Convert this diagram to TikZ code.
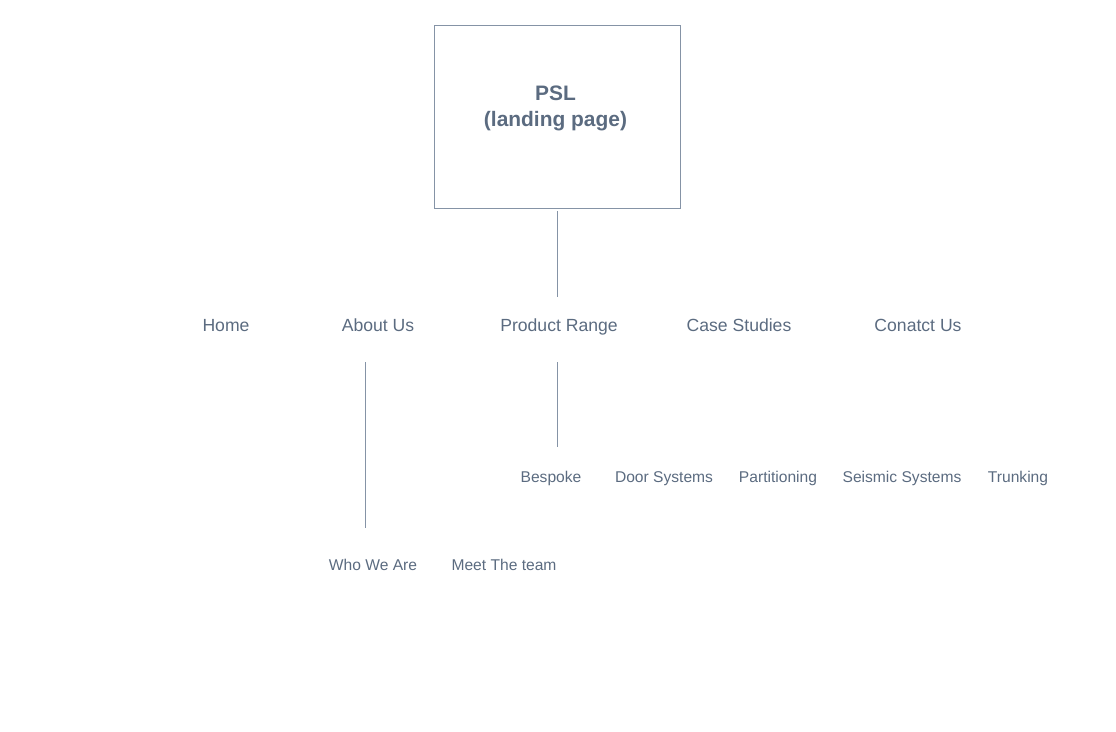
\documentclass[tikz,border=0pt]{standalone}
\usepackage{fontspec}
\setmainfont{Liberation Sans}
\definecolor{txt}{HTML}{5B6B80}
\definecolor{ln}{HTML}{8593A6}
\begin{document}
\begin{tikzpicture}[x=0.75pt,y=-0.75pt,
  lvlone/.style={font=\fontsize{13.2}{15}\selectfont, text=txt, inner sep=0pt, text height=9.45pt, text depth=0pt},
  lvltwo/.style={font=\fontsize{11.7}{14}\selectfont, text=txt, inner sep=0pt, text height=8.4pt, text depth=0pt},
  conn/.style={draw=ln, line width=0.7pt},
  boxstyle/.style={draw=ln, line width=0.7pt, minimum width=184.5pt, minimum height=137.25pt, inner sep=0pt}]
\useasboundingbox (0,0) rectangle (1116,731);
\node[boxstyle] (box) at (557,116.5) {};
\node[font=\bfseries\fontsize{15.7}{20}\selectfont, text=txt, align=center] (psl) at (555.5,108.5) {PSL\\(landing page)};
\node[lvlone] (home) at (226,325) {Home};
\node[lvlone] (about) at (378,325) {About Us};
\node[lvlone] (prod) at (559,325) {Product Range};
\node[lvlone] (case) at (739,325) {Case Studies};
\node[lvlone] (contact) at (918,325) {Conatct Us};
\node[lvltwo] (besp) at (551,477) {Bespoke};
\node[lvltwo] (door) at (664,477) {Door Systems};
\node[lvltwo] (part) at (778,477) {Partitioning};
\node[lvltwo] (seis) at (902,477) {Seismic Systems};
\node[lvltwo] (trunk) at (1018,477) {Trunking};
\node[lvltwo] (who) at (373,565) {Who We Are};
\node[lvltwo] (meet) at (504,565) {Meet The team};
\draw[conn, shorten <=2.25pt, shorten >=16.4pt] (box.south) -- (box.south |- prod.north);
\draw[conn, shorten <=23.1pt, shorten >=18.3pt] (box.south |- prod.south) -- (box.south |- besp.north);
\draw[conn, shorten <=23.1pt, shorten >=23.5pt] ([xshift=-9.75pt]about.south) -- ([xshift=-9.75pt]about.south |- who.north);
\end{tikzpicture}
\end{document}
